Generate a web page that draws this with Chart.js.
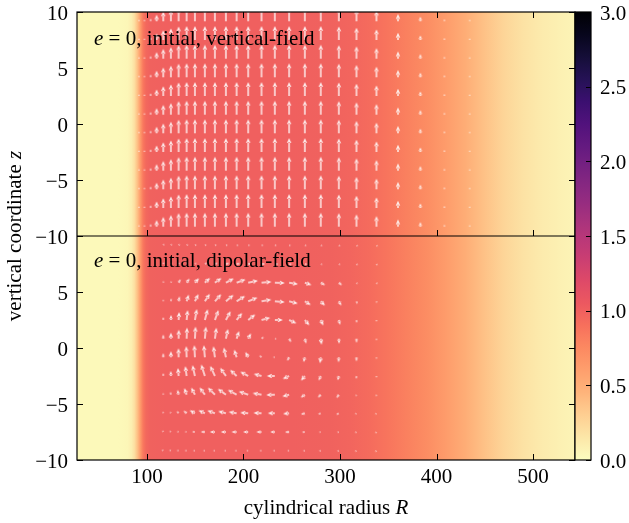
<!DOCTYPE html>
<html><head><meta charset="utf-8">
<script src="https://cdn.jsdelivr.net/npm/chart.js@4.4.1/dist/chart.umd.min.js"></script>
<style>html,body{margin:0;padding:0;background:#fff}#wrap{width:629px;height:523px;position:relative}canvas{display:block}</style>
</head><body><div id="wrap"><canvas id="c" width="629" height="523" style="width:629px;height:523px"></canvas></div>
<script>
// ---------------- data ----------------
const xTicks = [100, 200, 300, 400, 500];
const zTicks = [-10, -5, 0, 5, 10];
const cbTicks = [0, 0.5, 1, 1.5, 2, 2.5, 3];

// density profile (same in both panels), sampled in R
const densR = [27.5, 70, 80, 84, 87, 90, 93, 96, 99, 103, 120, 250, 290, 310, 330, 350, 370, 390, 410, 430, 450, 470, 490, 510, 530, 543.5];
const densV = [0.03, 0.03, 0.05, 0.1, 0.2, 0.38, 0.62, 0.85, 0.95, 0.99, 1.0, 1.0, 0.99, 0.97, 0.93, 0.87, 0.8, 0.72, 0.62, 0.5, 0.37, 0.26, 0.18, 0.12, 0.08, 0.06];

// arrow grid rows (z)
const gridZ = [9.17, 7.5, 5.83, 4.17, 2.5, 0.83, -0.83, -2.5, -4.17, -5.83, -7.5, -9.17];

// vertical field: columns and Bz strength
const vertR = [91.7, 97.4, 103.8, 110.0, 116.9, 124.8, 132.8, 141.1, 149.7, 160.0, 170.4, 181.8, 192.9, 204.9, 218.7, 232.5, 247.3, 263.6, 280.1, 298.8, 317.1, 337.8, 360.1, 383.3, 408.2, 434.4];
const vertBz = [0.05, 0.1, 0.2, 0.47, 0.7, 0.83, 0.97, 1, 1, 1, 1, 1, 1, 1, 1, 1, 1, 1, 1, 0.97, 0.88, 0.76, 0.52, 0.33, 0.16, 0.07];

// dipolar field: columns, magnitude and direction (deg) per row
const dipR = [116.9, 124.8, 132.8, 141.1, 149.7, 160.0, 170.4, 181.8, 192.9, 204.9, 218.7, 232.5, 247.3, 263.6, 280.1, 298.8, 317.1, 337.8];
const dipMag = [
  [0.04,0.04,0.05,0.06,0.07,0.07,0.07,0.07,0.07,0.07,0.07,0.07,0.07,0.07,0.06,0.05,0.04,0.04],
  [0.04,0.05,0.07,0.11,0.14,0.18,0.21,0.25,0.25,0.25,0.25,0.25,0.21,0.18,0.14,0.11,0.07,0.04],
  [0.04,0.11,0.29,0.36,0.43,0.5,0.57,0.64,0.68,0.71,0.71,0.71,0.64,0.5,0.36,0.29,0.14,0.07],
  [0.07,0.21,0.36,0.5,0.57,0.64,0.68,0.71,0.71,0.71,0.71,0.71,0.64,0.5,0.43,0.36,0.21,0.07],
  [0.21,0.36,0.57,0.71,0.79,0.79,0.75,0.71,0.64,0.64,0.64,0.57,0.57,0.5,0.43,0.36,0.21,0.07],
  [0.29,0.43,0.64,0.79,0.86,0.86,0.79,0.71,0.57,0.43,0.21,0.11,0.29,0.36,0.43,0.36,0.29,0.07],
  [0.29,0.43,0.64,0.79,0.86,0.86,0.79,0.71,0.57,0.43,0.21,0.11,0.29,0.36,0.43,0.36,0.29,0.07],
  [0.21,0.36,0.57,0.71,0.79,0.86,0.79,0.71,0.64,0.64,0.57,0.57,0.5,0.43,0.36,0.32,0.21,0.07],
  [0.07,0.21,0.36,0.5,0.57,0.64,0.71,0.71,0.71,0.71,0.64,0.61,0.5,0.36,0.29,0.29,0.14,0.07],
  [0.04,0.07,0.21,0.29,0.43,0.5,0.57,0.57,0.57,0.57,0.57,0.5,0.43,0.29,0.21,0.21,0.11,0.07],
  [0.04,0.07,0.11,0.14,0.21,0.29,0.36,0.36,0.36,0.36,0.36,0.32,0.29,0.21,0.14,0.11,0.07,0.04],
  [0.04,0.04,0.05,0.06,0.07,0.07,0.07,0.07,0.07,0.07,0.07,0.07,0.07,0.07,0.06,0.05,0.04,0.04]
];
const dipAng = [
  [60,50,40,30,20,15,10,5,0,0,0,-5,-10,-15,-20,-30,-40,-50],
  [70,60,50,40,32,25,18,12,8,4,0,-4,-10,-16,-24,-32,-45,-60],
  [80,70,60,55,48,42,35,28,20,12,5,-2,-10,-20,-30,-40,-50,-60],
  [88,82,78,72,64,56,48,40,32,22,10,-5,-15,-32,-47,-60,-75,-80],
  [90,88,86,84,80,75,70,62,52,38,15,0,-25,-50,-65,-75,-85,-90],
  [90,90,89,88,87,85,82,78,72,62,40,0,-60,-75,-82,-86,-89,-90],
  [90,90,91,92,93,95,98,102,108,118,140,180,-120,-105,-98,-94,-91,-90],
  [90,92,95,98,103,108,115,125,137,152,165,180,-155,-130,-115,-105,-95,-90],
  [92,100,104,110,118,126,135,144,151,161,170,-178,-165,-145,-135,-125,-110,-100],
  [100,120,130,140,150,155,160,165,170,175,177,180,-175,-165,-160,-150,-140,-130],
  [120,140,160,170,175,178,180,180,180,180,180,180,-178,-175,-170,-165,-150,-130],
  [150,160,170,175,180,180,180,180,180,180,180,180,-180,-175,-170,-160,-150,-140]
];
const panelLabels = [' = 0, initial, vertical-field', ' = 0, initial, dipolar-field'];

// ---------------- styling helpers ----------------
const FF = "'Liberation Serif','DejaVu Serif',serif";
const FS = 21;
const ARROW_PX = 14;          // px per unit field
const TOP_OFFSET = 20;        // top panel is drawn at z+20 on the shared axis
const magmaHex = ['#000004','#07061c','#150e38','#251255','#3b0f70','#51127c','#641a80','#782281','#8c2981','#a1307e','#b73779','#ca3e72','#de4968','#ec5860','#f7705c','#fc8961','#fe9f6d','#feb47b','#fecf92','#fce7a8','#fcfdbf'];
const magmaRGB = magmaHex.map(h => [parseInt(h.slice(1,3),16), parseInt(h.slice(3,5),16), parseInt(h.slice(5,7),16)]);
function magma(t){
  t = Math.max(0, Math.min(1, t));
  const f = t*(magmaRGB.length-1), i = Math.min(Math.floor(f), magmaRGB.length-2), u = f-i;
  const a = magmaRGB[i], b = magmaRGB[i+1];
  return 'rgb(' + [0,1,2].map(k => Math.round(a[k]+(b[k]-a[k])*u)).join(',') + ')';
}
const densColor = v => magma(1 - v/3);

function arrowCanvas(L){
  const sw = 1.45, hl = 5, hw = 4.4;
  const s = Math.max(0.38, Math.min(1, L/(hl*1.2)));
  const H = hl*s, W = hw*s;
  const half = Math.ceil(Math.max(L, H) + 6);
  const c = document.createElement('canvas');
  c.width = half*2; c.height = 12;
  const g = c.getContext('2d');
  const cx = half, cy = 6;
  const tip = cx + Math.max(L, H);
  const base = tip - H;
  g.fillStyle = 'rgba(255,255,255,0.86)';
  g.beginPath();
  if (base > cx) { g.rect(cx, cy - sw/2, base - cx + H*0.2, sw); }
  g.moveTo(tip, cy); g.lineTo(base, cy - W/2); g.lineTo(base + H*0.08, cy); g.lineTo(base, cy + W/2); g.closePath();
  g.fill();
  return c;
}

// build arrow points
const vPts = [], vSty = [], vRot = [];
gridZ.forEach(z => vertR.forEach((r, j) => {
  vPts.push({x: r, y: z + TOP_OFFSET});
  vSty.push(arrowCanvas(vertBz[j]*ARROW_PX));
  vRot.push(-90);
}));
const dPts = [], dSty = [], dRot = [];
gridZ.forEach((z, i) => dipR.forEach((r, j) => {
  dPts.push({x: r, y: z});
  dSty.push(arrowCanvas(dipMag[i][j]*ARROW_PX));
  dRot.push(-dipAng[i][j]);
}));

// ---------------- plugins ----------------
const heatPlugin = {
  id: 'heat',
  beforeDatasetsDraw(chart){
    const {ctx, chartArea: a, scales: {x}} = chart;
    const x0 = x.getPixelForValue(densR[0]), x1 = x.getPixelForValue(densR[densR.length-1]);
    const g = ctx.createLinearGradient(x0, 0, x1, 0);
    densR.forEach((r, i) => g.addColorStop((x.getPixelForValue(r)-x0)/(x1-x0), densColor(densV[i])));
    ctx.save();
    ctx.fillStyle = g;
    ctx.fillRect(a.left, a.top, a.right - a.left, a.bottom - a.top);
    ctx.restore();
  }
};
const framePlugin = {
  id: 'frame',
  afterDatasetsDraw(chart){
    const {ctx, chartArea: a, scales: {x, y, cb}} = chart;
    ctx.save();
    ctx.strokeStyle = '#000'; ctx.lineWidth = 1.2;
    const mid = y.getPixelForValue(10);
    ctx.strokeRect(a.left, a.top, a.right - a.left, a.bottom - a.top);
    ctx.beginPath(); ctx.moveTo(a.left, mid); ctx.lineTo(a.right, mid); ctx.stroke();
    const TL = 6;
    ctx.lineWidth = 1;
    ctx.beginPath();
    xTicks.forEach(v => {
      const px = Math.round(x.getPixelForValue(v)) + 0.5;
      ctx.moveTo(px, a.top); ctx.lineTo(px, a.top + TL);
      ctx.moveTo(px, mid); ctx.lineTo(px, mid - TL);
      ctx.moveTo(px, a.bottom); ctx.lineTo(px, a.bottom - TL);
    });
    [0, TOP_OFFSET].forEach(off => zTicks.forEach(z => {
      const py = Math.round(y.getPixelForValue(z + off)) + 0.5;
      ctx.moveTo(a.left, py); ctx.lineTo(a.left + TL, py);
      ctx.moveTo(a.right, py); ctx.lineTo(a.right - TL, py);
    }));
    ctx.stroke();
    // colourbar
    const cx0 = a.right, cx1 = a.right + 16;
    const yb = cb.getPixelForValue(0), yt = cb.getPixelForValue(3);
    const g = ctx.createLinearGradient(0, yb, 0, yt);
    for (let k = 0; k <= 40; k++) g.addColorStop(k/40, densColor(3*k/40));
    ctx.fillStyle = g;
    ctx.fillRect(cx0, yt, cx1 - cx0, yb - yt);
    ctx.lineWidth = 1.2;
    ctx.strokeRect(cx0, yt, cx1 - cx0, yb - yt);
    ctx.lineWidth = 1;
    ctx.beginPath();
    cbTicks.forEach(v => {
      const py = Math.round(cb.getPixelForValue(v)) + 0.5;
      ctx.moveTo(cx1, py); ctx.lineTo(cx1 - 5, py);
    });
    ctx.stroke();
    ctx.restore();
  },
  afterDraw(chart){
    const {ctx, chartArea: a} = chart;
    ctx.save();
    ctx.fillStyle = '#000';
    ctx.textBaseline = 'alphabetic';
    const fnt = q => (q[1] ? 'italic ' : '') + FS + 'px ' + FF;
    const parts = (p) => p.map(q => { ctx.font = fnt(q); return ctx.measureText(q[0]).width; });
    const draw = (p, x0, y0) => { let xx = x0; p.forEach(q => { ctx.font = fnt(q); ctx.fillText(q[0], xx, y0); xx += ctx.measureText(q[0]).width; }); };
    draw([['e', true], [panelLabels[0], false]], 94, 45);
    draw([['e', true], [panelLabels[1], false]], 94, 267);
    const xt = [['cylindrical radius ', false], ['R', true]];
    const xw = parts(xt).reduce((s, w) => s + w, 0);
    draw(xt, 326 - xw/2, 514);
    const yt = [['vertical coordinate ', false], ['z', true]];
    const yw = parts(yt).reduce((s, w) => s + w, 0);
    ctx.translate(21, (a.top + a.bottom)/2);
    ctx.rotate(-Math.PI/2);
    draw(yt, -yw/2, 0);
    ctx.restore();
  }
};

// ---------------- chart ----------------
Chart.defaults.font.family = FF;
Chart.defaults.font.size = FS;
Chart.defaults.color = '#000';
const noPad = s => { s.paddingTop = 0; s.paddingBottom = 0; s.paddingLeft = 0; s.paddingRight = 0; };

new Chart(document.getElementById('c'), {
  type: 'scatter',
  data: {
    datasets: [
      {data: vPts, xAxisID: 'x', yAxisID: 'y', clip: 0, radius: 1,
       pointStyle: c => vSty[c.dataIndex], rotation: c => vRot[c.dataIndex]},
      {data: dPts, xAxisID: 'x', yAxisID: 'y', clip: 0, radius: 1,
       pointStyle: c => dSty[c.dataIndex], rotation: c => dRot[c.dataIndex]}
    ]
  },
  options: {
    responsive: false,
    devicePixelRatio: 1,
    animation: false,
    events: [],
    layout: {padding: {top: 12, left: 0, right: 0, bottom: 0}},
    plugins: {legend: {display: false}, tooltip: {enabled: false}},
    scales: {
      x: {
        type: 'linear', position: 'bottom', min: 27.5, max: 543.5,
        grid: {display: false, drawTicks: false}, border: {display: false},
        ticks: {padding: 5, callback: v => String(v)},
        afterBuildTicks: s => { s.ticks = xTicks.map(v => ({value: v})); },
        afterFit: s => { s.height = 63; noPad(s); }
      },
      y: {
        type: 'linear', position: 'left', min: -10, max: 30,
        grid: {display: false, drawTicks: false}, border: {display: false},
        ticks: {padding: 9, labelOffset: 2,
          callback: v => { const z = v >= 10 ? v - TOP_OFFSET : v; return (z < 0 ? '\u2212' : '') + Math.abs(z); }},
        afterBuildTicks: s => { s.ticks = [...zTicks, ...zTicks.slice(1).map(z => z + TOP_OFFSET)].map(v => ({value: v})); },
        afterFit: s => { s.width = 77; noPad(s); }
      },
      cb: {
        type: 'linear', position: 'right', min: 0, max: 3,
        grid: {display: false, drawTicks: false}, border: {display: false},
        ticks: {padding: 25, labelOffset: 2, callback: v => v.toFixed(1)},
        afterBuildTicks: s => { s.ticks = cbTicks.map(v => ({value: v})); },
        afterFit: s => { s.width = 54; noPad(s); }
      }
    }
  },
  plugins: [heatPlugin, framePlugin]
});
</script></body></html>
